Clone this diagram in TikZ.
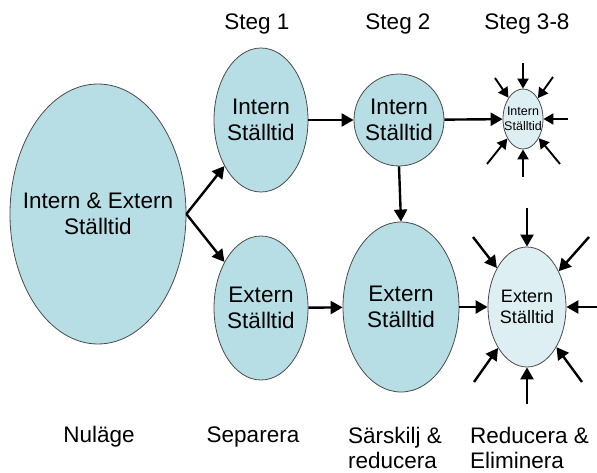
\documentclass[tikz,border=0pt]{standalone}
\usepackage{fontspec}
\setmainfont{Liberation Sans}
\usetikzlibrary{arrows.meta,shapes.geometric}
\definecolor{fillmain}{RGB}{183,222,228}
\definecolor{filllight}{RGB}{221,239,243}
\definecolor{rim}{RGB}{75,75,75}
\begin{document}
\begin{tikzpicture}[x=1pt,y=-1pt,
  blob/.style n args={3}{ellipse, draw=rim, line width=0.8pt, fill=#1,
    inner sep=0pt, minimum width=#2, minimum height=#3},
  txt/.style={align=center, font=\fontsize{22.5}{26.5}\selectfont},
  conn/.style={-{Triangle[length=12pt,width=13pt]}, line width=2.4pt},
  press/.style={-{Triangle[length=10pt,width=11pt]}, line width=1.9pt},
  head/.style={font=\fontsize{22.5}{26}\selectfont},
  foot/.style={font=\fontsize{22.5}{25}\selectfont, align=left, inner sep=0pt}
]
\useasboundingbox (0,0) rectangle (597,473);

% column headings
\node[head] (h1) at (257,24) {Steg 1};
\node[head] (h2) at (398,24) {Steg 2};
\node[head] (h3) at (527,24) {Steg 3-8};

% stages
\node[blob={fillmain}{176}{260}, label={[txt]center:Intern \& Extern\\Ställtid}] (all) at (98,214) {};
\node[blob={fillmain}{94}{144}, label={[txt]center:Intern\\Ställtid}] (i1) at (261,120) {};
\node[blob={fillmain}{94}{144}, label={[txt]center:Extern\\Ställtid}] (e1) at (261,308) {};
\node[blob={fillmain}{90}{92}, label={[txt]center:Intern\\Ställtid}] (i2) at (399,120) {};
\node[blob={fillmain}{116}{170}, label={[txt]center:Extern\\Ställtid}] (e2) at (401,307) {};
\node[blob={filllight}{40}{60}, label={[align=center,font=\fontsize{12.5}{15}\selectfont]center:Intern\\Ställtid}] (i3) at (523,119) {};
\node[blob={filllight}{78}{120}, label={[align=center,font=\fontsize{18}{21}\selectfont]center:Extern\\Ställtid}] (e3) at (527,307) {};

% flow between stages
\draw[conn] (all.east) -- (i1);
\draw[conn] (all.east) -- (e1);
\draw[conn] (i1) -- (i2);
\draw[conn] (i2) -- (i3);
\draw[conn] (e1) -- (e2);
\draw[conn] (e2) -- (e3);
\draw[conn] (i2.south) -- (e2.north);

% pressure arrows around the small internal set-up
\coordinate (it)  at (523,63);
\coordinate (iul) at (495,78);
\coordinate (iur) at (553,77);
\coordinate (ir)  at (568,119);
\coordinate (ill) at (487,164);
\coordinate (ilr) at (560,164);
\coordinate (ib)  at (523,177);
\foreach \c in {it,iul,iur,ir,ill,ilr,ib}
  \draw[press] (\c) -- (i3);

% pressure arrows around the external set-up
\coordinate (et)  at (527,208);
\coordinate (eul) at (473,237);
\coordinate (eur) at (589,237);
\coordinate (er)  at (597,307);
\coordinate (ell) at (474,382);
\coordinate (elr) at (582,382);
\coordinate (eb)  at (527,404);
\foreach \c in {et,eul,eur,er,ell,elr,eb}
  \draw[conn] (\c) -- (e3);

% phase names
\node[foot] (f1) at (99,437) {Nuläge};
\node[foot] (f2) at (253,437) {Separera};
\node[foot, anchor=north west] (f3) at (348,427) {Särskilj \&\\reducera};
\node[foot, anchor=north west] (f4) at (470,427) {Reducera \&\\Eliminera};
\end{tikzpicture}
\end{document}
